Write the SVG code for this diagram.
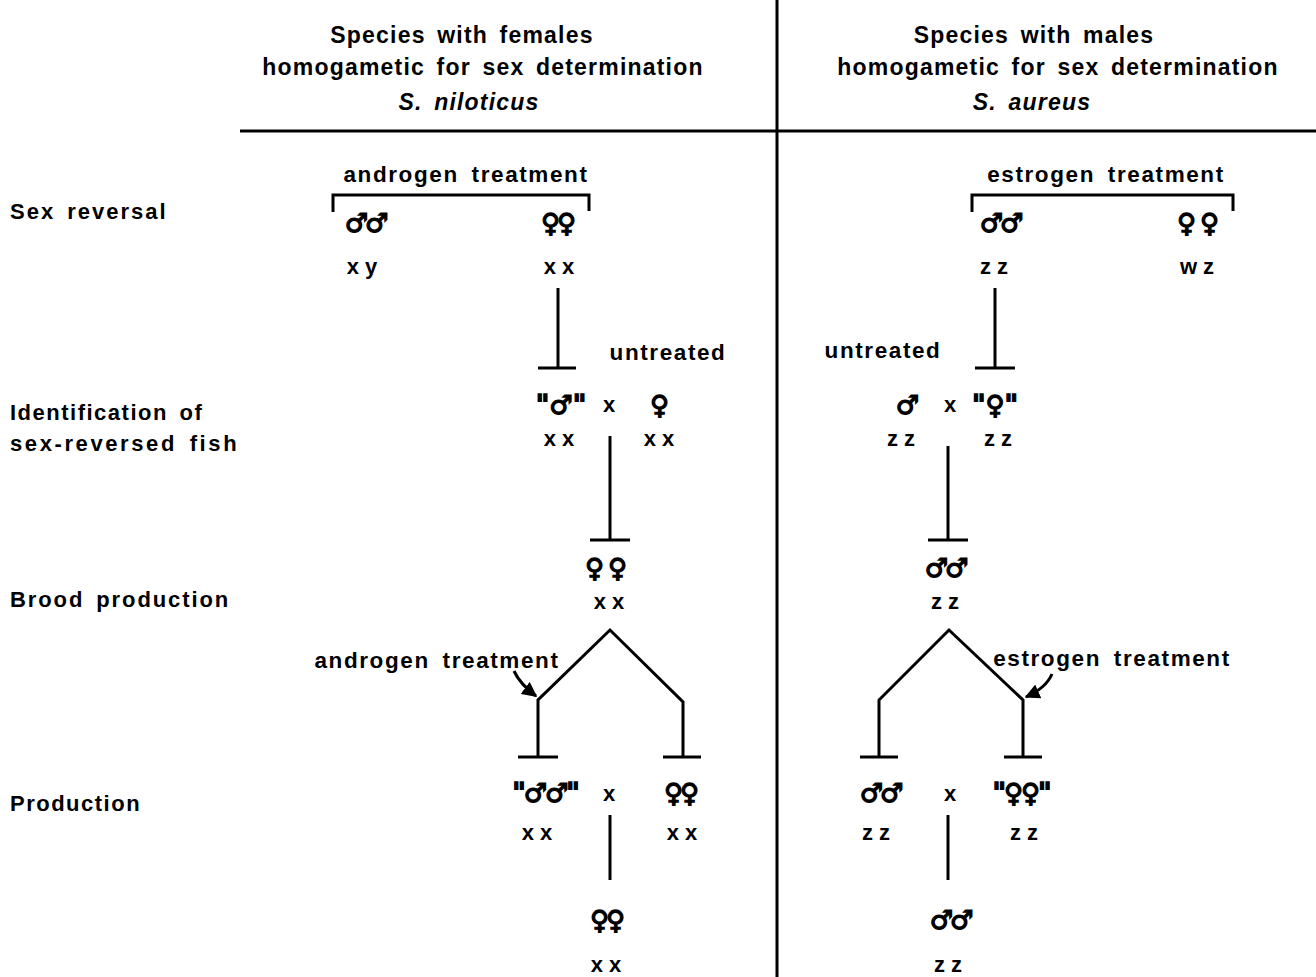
<svg xmlns="http://www.w3.org/2000/svg" width="1316" height="977" viewBox="0 0 1316 977">
<style>
.t{font-family:"Liberation Sans","DejaVu Sans",sans-serif;font-weight:bold;font-size:22px;fill:#000;letter-spacing:1.5px;word-spacing:4px}
.h{font-size:23px;text-anchor:middle;letter-spacing:1.2px}
.i{font-style:italic}
.c{text-anchor:middle;font-size:22.5px;letter-spacing:1.6px;word-spacing:5px}
.g{text-anchor:middle;letter-spacing:0;word-spacing:0}
.s{font-family:"DejaVu Sans",sans-serif;font-weight:bold;font-size:26px;fill:#000;stroke:#000;stroke-width:1.3px;text-anchor:middle;letter-spacing:-3px}
.ln{stroke:#000;stroke-width:3;fill:none;stroke-linecap:butt;stroke-linejoin:miter}
</style>
<defs>
<marker id="ah" viewBox="0 0 10 10" refX="9" refY="5" markerWidth="5" markerHeight="5" orient="auto" markerUnits="strokeWidth">
<path d="M0,0 L10,5 L0,10 z" fill="#000"/>
</marker>
</defs>
<rect width="1316" height="977" fill="#fff"/>

<g id="frame">
<line class="ln" x1="777" y1="0" x2="777" y2="977"/>
<line class="ln" x1="240" y1="131" x2="1316" y2="131"/>
</g>

<g id="header-left">
<text class="t h" x="462" y="43">Species with females</text>
<text class="t h" x="483" y="75">homogametic for sex determination</text>
<text class="t h i" x="469" y="110">S. niloticus</text>
</g>
<g id="header-right">
<text class="t h" x="1034" y="43">Species with males</text>
<text class="t h" x="1058" y="75">homogametic for sex determination</text>
<text class="t h i" x="1032" y="110">S. aureus</text>
</g>

<g id="row-labels">
<text class="t" x="10" y="219" style="letter-spacing:2px">Sex reversal</text>
<text class="t" x="10" y="420">Identification of</text>
<text class="t" x="10" y="451" style="letter-spacing:2.6px">sex-reversed fish</text>
<text class="t" x="10" y="607" style="letter-spacing:1.9px">Brood production</text>
<text class="t" x="10" y="811">Production</text>
</g>

<g id="connectors">
<!-- left -->
<path class="ln" d="M333,212 V195 H589 V211"/>
<line class="ln" x1="558" y1="288" x2="558" y2="368"/>
<line class="ln" x1="538" y1="368" x2="576" y2="368"/>
<line class="ln" x1="610" y1="436" x2="610" y2="540"/>
<line class="ln" x1="590" y1="540" x2="630" y2="540"/>
<path class="ln" d="M538,757 V700 L610,630 L683,702 V757"/>
<line class="ln" x1="518" y1="757" x2="558" y2="757"/>
<line class="ln" x1="663" y1="757" x2="701" y2="757"/>
<line class="ln" x1="610" y1="815" x2="610" y2="880"/>
<path class="ln" d="M514,671 Q520,684 536,696" marker-end="url(#ah)"/>
<!-- right -->
<path class="ln" d="M972,212 V195 H1233 V211"/>
<line class="ln" x1="995" y1="288" x2="995" y2="368"/>
<line class="ln" x1="975" y1="368" x2="1015" y2="368"/>
<line class="ln" x1="948" y1="446" x2="948" y2="540"/>
<line class="ln" x1="928" y1="540" x2="968" y2="540"/>
<path class="ln" d="M879,757 V700 L949,630 L1023,700 V757"/>
<line class="ln" x1="860" y1="757" x2="898" y2="757"/>
<line class="ln" x1="1004" y1="757" x2="1042" y2="757"/>
<line class="ln" x1="948" y1="815" x2="948" y2="880"/>
<path class="ln" d="M1052,674 Q1046,688 1026,697" marker-end="url(#ah)"/>
</g>

<g id="left-sex-reversal">
<text class="t c" x="466" y="182">androgen treatment</text>
<text class="s" x="365" y="232">♂♂</text>
<text class="s" x="557" y="232">♀♀</text>
<text class="t g" x="362" y="274">x y</text>
<text class="t g" x="559" y="274">x x</text>
</g>
<g id="left-identification">
<text class="t c" x="668" y="360">untreated</text>
<text class="s" x="561" y="414" style="letter-spacing:0">"♂"</text>
<text class="t g" x="609" y="412">x</text>
<text class="s" x="658" y="414">♀</text>
<text class="t g" x="559" y="446">x x</text>
<text class="t g" x="659" y="446">x x</text>
</g>
<g id="left-brood">
<text class="s" x="608" y="577" style="letter-spacing:4px">♀♀</text>
<text class="t g" x="609" y="609">x x</text>
</g>
<g id="left-production">
<text class="t c" x="437" y="668">androgen treatment</text>
<text class="s" x="545" y="802" style="letter-spacing:-2px">"♂♂"</text>
<text class="t g" x="609" y="801">x</text>
<text class="s" x="680" y="802">♀♀</text>
<text class="t g" x="537" y="840">x x</text>
<text class="t g" x="682" y="840">x x</text>
<text class="s" x="606" y="929">♀♀</text>
<text class="t g" x="606" y="972">x x</text>
</g>

<g id="right-sex-reversal">
<text class="t c" x="1106" y="182">estrogen treatment</text>
<text class="s" x="1000" y="232">♂♂</text>
<text class="s" x="1200" y="232" style="letter-spacing:4px">♀♀</text>
<text class="t g" x="994" y="274">z z</text>
<text class="t g" x="1197" y="274">w z</text>
</g>
<g id="right-identification">
<text class="t c" x="883" y="358">untreated</text>
<text class="s" x="906" y="414">♂</text>
<text class="t g" x="950" y="412">x</text>
<text class="s" x="995" y="414" style="letter-spacing:0">"♀"</text>
<text class="t g" x="901" y="446">z z</text>
<text class="t g" x="998" y="446">z z</text>
</g>
<g id="right-brood">
<text class="s" x="945" y="577">♂♂</text>
<text class="t g" x="945" y="609">z z</text>
</g>
<g id="right-production">
<text class="t c" x="1112" y="666">estrogen treatment</text>
<text class="s" x="880" y="802">♂♂</text>
<text class="t g" x="950" y="801">x</text>
<text class="s" x="1021" y="802" style="letter-spacing:-2px">"♀♀"</text>
<text class="t g" x="876" y="840">z z</text>
<text class="t g" x="1024" y="840">z z</text>
<text class="s" x="950" y="929">♂♂</text>
<text class="t g" x="948" y="972">z z</text>
</g>
</svg>
